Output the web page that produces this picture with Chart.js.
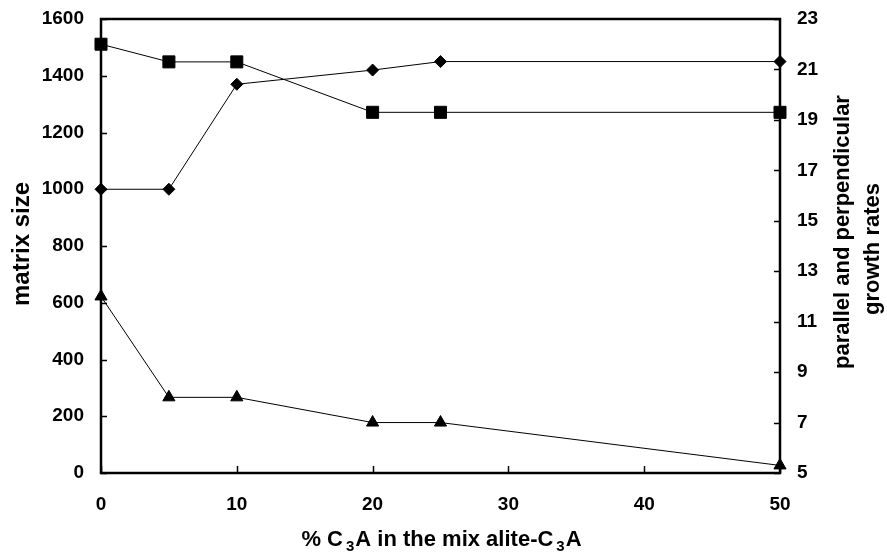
<!DOCTYPE html>
<html>
<head>
<meta charset="utf-8">
<script src="https://cdn.jsdelivr.net/npm/chart.js@4.4.0/dist/chart.umd.min.js"></script>
<style>
  html, body { margin: 0; padding: 0; background: #fff; }
  #wrap { width: 887px; height: 552px; }
</style>
</head>
<body>
<div id="wrap"><canvas id="chart" width="887" height="552"></canvas></div>
<script>
// data
const c3aPercent = [0, 5, 10, 20, 25, 50];
const matrixSize = [1000, 1000, 1370, 1420, 1450, 1450];       // diamonds, left axis
const parallelRate = [22, 21.3, 21.3, 19.3, 19.3, 19.3];       // squares, right axis
const perpendicularRate = [12, 8, 8, 7, 7, 5.3];               // triangles, right axis

const xTicks = [0, 10, 20, 30, 40, 50];
const leftTicks = [0, 200, 400, 600, 800, 1000, 1200, 1400, 1600];
const rightTicks = [5, 7, 9, 11, 13, 15, 17, 19, 21, 23];

const FONT = '"Liberation Sans", Arial, sans-serif';

const toPoints = ys => c3aPercent.map((x, i) => ({ x: x, y: ys[i] }));

// box round the plot + inward tick marks
const framePlugin = {
  id: 'frame',
  beforeDatasetsDraw(chart) {
    const { ctx, chartArea: a, scales } = chart;
    ctx.save();
    ctx.strokeStyle = '#000';
    ctx.lineWidth = 2.5;
    ctx.strokeRect(a.left, a.top, a.right - a.left, a.bottom - a.top);
    ctx.lineWidth = 1.5;
    ctx.beginPath();
    scales.y.ticks.forEach(t => {
      const p = Math.round(scales.y.getPixelForValue(t.value)) + 0.5;
      ctx.moveTo(a.left, p); ctx.lineTo(a.left + 6, p);
    });
    scales.y1.ticks.forEach(t => {
      const p = Math.round(scales.y1.getPixelForValue(t.value)) + 0.5;
      ctx.moveTo(a.right - 6, p); ctx.lineTo(a.right, p);
    });
    scales.x.ticks.forEach(t => {
      const p = Math.round(scales.x.getPixelForValue(t.value)) + 0.5;
      ctx.moveTo(p, a.bottom); ctx.lineTo(p, a.bottom - 7);
    });
    ctx.stroke();
    ctx.restore();
  }
};

// axis titles (left/right read bottom to top, x title has subscripts)
const titlePlugin = {
  id: 'titles',
  afterDraw(chart) {
    const { ctx, chartArea: a } = chart;
    ctx.save();
    ctx.fillStyle = '#000';
    ctx.textBaseline = 'alphabetic';
    ctx.textAlign = 'center';

    ctx.save();
    ctx.translate(29, 244);
    ctx.rotate(-Math.PI / 2);
    ctx.font = 'bold 24px ' + FONT;
    ctx.fillText('matrix size', 0, 0);
    ctx.restore();

    ctx.save();
    ctx.translate(849, 232);
    ctx.rotate(-Math.PI / 2);
    ctx.font = 'bold 22px ' + FONT;
    ctx.fillText('parallel and perpendicular', 0, 0);
    ctx.restore();

    ctx.save();
    ctx.translate(879, 249);
    ctx.rotate(-Math.PI / 2);
    ctx.font = 'bold 22px ' + FONT;
    ctx.fillText('growth rates', 0, 0);
    ctx.restore();

    // % C3A in the mix alite-C3A
    const parts = [['% C', false], ['3', true], ['A in the mix alite-C', false], ['3', true], ['A', false]];
    const main = 'bold 22px ' + FONT, sub = 'bold 15px ' + FONT;
    let total = 0;
    parts.forEach(p => { ctx.font = p[1] ? sub : main; total += ctx.measureText(p[0]).width + (p[1] ? 4 : 0); });
    let x = (a.left + a.right) / 2 + 1 - total / 2;
    ctx.textAlign = 'left';
    parts.forEach(p => {
      ctx.font = p[1] ? sub : main;
      if (p[1]) x += 3;
      ctx.fillText(p[0], x, p[1] ? 551 : 546);
      x += ctx.measureText(p[0]).width + (p[1] ? 1 : 0);
    });
    ctx.restore();
  }
};

const tickFont = { family: FONT, size: 19, weight: 'bold' };
const plain = v => String(v);
const noPad = s => { s.paddingTop = 0; s.paddingBottom = 0; s.paddingLeft = 0; s.paddingRight = 0; };

new Chart(document.getElementById('chart'), {
  type: 'line',
  data: {
    datasets: [
      {
        label: 'matrix size',
        data: toPoints(matrixSize),
        yAxisID: 'y',
        borderColor: '#000',
        backgroundColor: '#000',
        borderWidth: 1,
        pointStyle: 'rectRot',
        pointRadius: 6,
        pointBorderWidth: 1,
        clip: false
      },
      {
        label: 'parallel growth rate',
        data: toPoints(parallelRate),
        yAxisID: 'y1',
        borderColor: '#000',
        backgroundColor: '#000',
        borderWidth: 1,
        pointStyle: 'rect',
        pointRadius: 8.5,
        pointBorderWidth: 1,
        clip: false
      },
      {
        label: 'perpendicular growth rate',
        data: toPoints(perpendicularRate),
        yAxisID: 'y1',
        borderColor: '#000',
        backgroundColor: '#000',
        borderWidth: 1,
        pointStyle: 'triangle',
        pointRadius: 7,
        pointBorderWidth: 1,
        clip: false
      }
    ]
  },
  options: {
    responsive: false,
    animation: false,
    layout: { padding: { top: 19, left: 0, right: 0, bottom: 0 } },
    plugins: { legend: { display: false }, tooltip: { enabled: false } },
    scales: {
      x: {
        type: 'linear',
        min: 0,
        max: 50,
        afterBuildTicks: s => { s.ticks = xTicks.map(v => ({ value: v })); },
        afterFit: s => { s.height = 79; noPad(s); },
        grid: { display: false, drawTicks: false },
        border: { display: false },
        ticks: { font: tickFont, color: '#000', padding: 20, maxRotation: 0, callback: plain }
      },
      y: {
        position: 'left',
        min: 0,
        max: 1600,
        afterBuildTicks: s => { s.ticks = leftTicks.map(v => ({ value: v })); },
        afterFit: s => { s.width = 101; noPad(s); },
        grid: { display: false, drawTicks: false },
        border: { display: false },
        ticks: { font: tickFont, color: '#000', padding: 17, callback: plain }
      },
      y1: {
        position: 'right',
        min: 5,
        max: 23,
        afterBuildTicks: s => { s.ticks = rightTicks.map(v => ({ value: v })); },
        afterFit: s => { s.width = 107; noPad(s); },
        grid: { display: false, drawTicks: false },
        border: { display: false },
        ticks: { font: tickFont, color: '#000', padding: 17, callback: plain }
      }
    }
  },
  plugins: [framePlugin, titlePlugin]
});
</script>
</body>
</html>
